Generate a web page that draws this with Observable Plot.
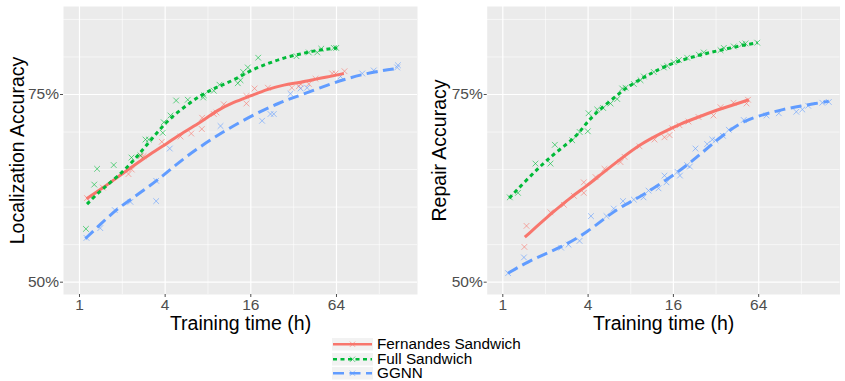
<!DOCTYPE html>
<html><head><meta charset="utf-8">
<script src="https://cdn.jsdelivr.net/npm/d3@7"></script>
<script src="https://cdn.jsdelivr.net/npm/@observablehq/plot@0.6"></script>
<style>
body{margin:0;background:#fff;font-family:"Liberation Sans",Arial,sans-serif;}
#wrap{position:relative;width:845px;height:381px;overflow:hidden;}
#left{position:absolute;left:0;top:0;}
#right{position:absolute;left:422px;top:0;}
#legend{position:absolute;left:331px;top:337px;}
.row{display:flex;align-items:center;height:14.5px;}
.row svg{display:block;}
.row span{font-size:15.3px;margin-left:3px;line-height:14.5px;color:#000;white-space:nowrap;}
</style></head>
<body><div id="wrap"><div id="left"></div><div id="right"></div><div id="legend"></div></div>
<script>
// ---- categories / styling lookups ----
const series = ["Fernandes Sandwich", "Full Sandwich", "GGNN"];
const colors = ["#F8766D", "#00BA38", "#619CFF"];
const dashes = [null, "4,3.5", "11,5.5"];

// ---- axis ticks ----
const xTicks = [1, 4, 16, 64];
const xMinor = [2, 8, 32, 128];
const yTicks = [50, 75];
const yMinor = [55, 60, 65, 70, 80, 85];

// ---- Localization Accuracy panel: observed points [hours, %] ----
const locFerPts = [[1.13,61.2],[1.46,62.6],[2.21,64.4],[2.33,65.0],[2.70,66.8],[2.82,66.8],[3.79,68.7],[5.13,69.4],[6.10,69.8],[7.28,71.9],[7.24,70.4],[8.79,72.4],[9.18,72.6],[10.33,73.7],[14.9,74.8],[14.9,73.8],[17.0,75.8],[21.1,75.9],[31.1,75.9],[34.8,76.1],[35.8,76.4],[40.9,76.4],[45.6,77.1],[59.7,77.8],[63.0,77.8],[72.9,78.1]];
const locFullPts = [[1.11,57.1],[1.27,63.0],[1.33,65.1],[1.74,65.6],[2.32,66.6],[2.68,66.9],[2.91,69.0],[3.07,69.0],[3.85,69.9],[3.91,71.3],[4.36,72.2],[4.78,74.2],[5.77,74.3],[7.40,74.6],[7.48,74.9],[8.79,75.5],[9.64,76.3],[12.96,76.5],[13.54,76.9],[14.14,78.0],[15.24,78.6],[18.03,79.9],[33.5,80.1],[40.9,80.6],[46.9,80.6],[50.0,81.1],[61.3,81.2],[63.7,81.2]];
const locGgnnPts = [[1.12,55.9],[1.40,57.2],[1.77,59.6],[2.28,60.7],[3.46,63.5],[3.46,60.8],[4.31,67.8],[9.80,70.8],[19.2,71.5],[22.0,72.4],[23.2,72.4],[30.4,75.1],[35.8,75.8],[39.8,75.9],[68.3,77.4],[97.1,77.8],[117,78.2],[171,78.6],[173,78.9]];
// ---- Localization: smoothed trend lines ----
const locFerFit = [[1.12,61.1],[1.40,62.3],[2.16,64.9],[3.16,67.1],[4.13,68.5],[5.41,70.0],[7.09,71.3],[9.28,72.9],[12.15,74.0],[15.9,74.8],[20.9,75.7],[27.3,76.3],[35.8,76.6],[46.9,77.1],[61.3,77.5],[72.1,77.8]];
const locFullFit = [[1.13,60.4],[1.40,62.2],[1.84,64.0],[2.41,66.2],[3.16,68.9],[4.13,71.5],[5.41,73.3],[7.09,74.9],[9.28,76.0],[12.15,76.9],[15.9,78.2],[20.9,79.1],[27.3,79.9],[35.8,80.4],[46.9,80.9],[64.8,81.2]];
const locGgnnFit = [[1.10,55.8],[1.40,57.7],[1.84,59.8],[2.68,61.9],[3.89,64.2],[5.38,66.5],[8.79,69.3],[15.1,71.9],[25.9,74.0],[35.8,74.9],[61.3,76.6],[105,77.9],[175,78.5]];

// ---- Repair Accuracy panel: observed points [hours, %] ----
const repFerPts = [[1.47,57.5],[1.42,54.7],[2.17,59.3],[2.70,60.3],[3.17,61.5],[3.73,63.3],[3.73,61.9],[4.51,64.0],[5.22,65.1],[6.77,66.0],[7.23,66.7],[9.22,68.1],[11.77,69.0],[13.84,69.3],[15.02,69.6],[15.69,70.5],[17.67,70.9],[20.45,71.4],[24.07,72.0],[30.7,72.2],[34.4,73.3],[42.5,73.9],[52.5,73.8],[53.8,74.3]];
const repFullPts = [[1.12,61.3],[1.28,61.9],[1.70,65.8],[2.17,65.8],[2.33,68.3],[3.09,68.9],[3.49,70.0],[3.98,70.1],[4.03,72.5],[4.64,73.0],[5.11,73.2],[5.76,73.8],[6.42,74.4],[6.96,75.8],[7.35,75.9],[8.41,76.4],[9.38,76.9],[9.89,77.4],[11.63,78.0],[13.69,78.6],[14.47,78.8],[16.1,79.3],[17.5,79.6],[20.0,79.9],[24.2,80.3],[26.2,80.6],[34.4,80.9],[36.3,81.2],[42.7,81.4],[48.9,81.7],[51.6,81.8],[62.5,81.9]];
const repGgnnPts = [[1.09,51.2],[1.41,53.3],[2.58,54.6],[2.91,55.0],[3.48,55.5],[4.19,58.8],[5.39,58.8],[6.07,59.8],[7.05,60.8],[8.41,61.0],[9.84,61.3],[10.68,62.2],[12.56,62.5],[13.84,64.2],[14.30,63.3],[17.1,64.7],[17.8,64.2],[20.0,65.6],[20.9,65.4],[22.9,67.8],[27.7,68.4],[30.1,69.0],[31.7,68.9],[35.8,69.5],[39.4,70.3],[50.2,71.6],[72.7,72.2],[88.7,72.5],[118,72.7],[130,73.0],[143,73.5],[180,73.9],[200,74.0]];
// ---- Repair: smoothed trend lines ----
const repFerFit = [[1.43,56.0],[2.31,59.5],[3.02,61.3],[3.96,62.9],[4.89,64.3],[6.77,66.4],[9.38,68.4],[12.98,69.8],[17.96,71.1],[24.9,72.1],[34.4,73.1],[43.9,73.7],[54.5,74.3]];
const repFullFit = [[1.11,61.2],[1.45,63.5],[1.85,65.5],[2.37,67.3],[3.37,69.5],[3.90,71.3],[4.89,73.1],[6.42,74.9],[7.55,76.0],[9.89,77.3],[11.63,78.0],[16.1,79.3],[24.9,80.3],[32.6,80.8],[47.6,81.5],[62.8,81.9]];
const repGgnnFit = [[1.09,51.2],[1.49,52.7],[2.07,53.9],[2.86,55.1],[3.96,56.7],[5.48,58.8],[6.77,60.0],[9.38,61.4],[12.98,63.1],[17.96,64.9],[23.6,66.7],[29.2,68.2],[39.4,70.2],[51.6,71.6],[71.5,72.4],[93.8,73.0],[130,73.5],[161,73.8],[200,74.1]];

const FONT = "Liberation Sans, Arial, Helvetica, sans-serif";

function tag(arr, s) { return arr.map(([x, y]) => ({x, y, s})); }

function panel({width, ml, mr, xDomain, pts, fits, yTitle, yTitleDx}) {
  const points = pts.flatMap((a, i) => tag(a, series[i]));
  const lineMarks = fits.map((a, i) => Plot.line(tag(a, series[i]), {
    x: "x", y: "y", stroke: colors[i], strokeWidth: 3,
    strokeDasharray: dashes[i] || undefined, strokeLinecap: "butt", strokeLinejoin: "round",
    curve: "basis"
  }));
  return Plot.plot({
    width, height: 340,
    marginLeft: ml, marginRight: mr, marginTop: 6, marginBottom: 46,
    x: {type: "log", base: 2, domain: xDomain},
    y: {domain: [48.36, 86.72]},
    color: {domain: series, range: colors},
    style: {fontFamily: FONT, background: "transparent", overflow: "visible"},
    marks: [
      Plot.frame({fill: "#ebebeb", stroke: null}),
      Plot.ruleX(xMinor, {stroke: "white", strokeWidth: 0.6}),
      Plot.ruleY(yMinor, {stroke: "white", strokeWidth: 0.6}),
      Plot.ruleX(xTicks, {stroke: "white", strokeWidth: 1.2}),
      Plot.ruleY(yTicks, {stroke: "white", strokeWidth: 1.2}),
      Plot.dot(points, {x: "x", y: "y", stroke: "s", symbol: "times", r: 2.7, strokeOpacity: 0.6, strokeWidth: 1}),
      ...lineMarks,
      Plot.axisX({ticks: xTicks, tickFormat: d => String(d), tickSize: 3, tickPadding: 1, fontSize: 15.5, color: "#4d4d4d", label: null}),
      Plot.axisY({ticks: yTicks, tickFormat: d => d + "%", tickSize: 3, tickPadding: 1.5, fontSize: 15.5, color: "#4d4d4d", label: null}),
      Plot.text(["Training time (h)"], {frameAnchor: "bottom", lineAnchor: "middle", textAnchor: "middle", dy: 29, fontSize: 19.5, fill: "black"}),
      Plot.text([yTitle], {frameAnchor: "left", lineAnchor: "middle", textAnchor: "middle", dx: yTitleDx, rotate: -90, fontSize: 19.5, fill: "black"})
    ]
  });
}

document.getElementById("left").appendChild(panel({
  width: 422, ml: 63, mr: 5, xDomain: [0.772, 237.5],
  pts: [locFerPts, locFullPts, locGgnnPts],
  fits: [locFerFit, locFullFit, locGgnnFit],
  yTitle: "Localization Accuracy", yTitleDx: -46
}));
document.getElementById("right").appendChild(panel({
  width: 423, ml: 64.7, mr: 5.5, xDomain: [0.776, 239.9],
  pts: [repFerPts, repFullPts, repGgnnPts],
  fits: [repFerFit, repFullFit, repGgnnFit],
  yTitle: "Repair Accuracy", yTitleDx: -47.5
}));

// ---- legend ----
const legend = document.getElementById("legend");
const ns = "http://www.w3.org/2000/svg";
series.forEach((name, i) => {
  const row = document.createElement("div");
  row.className = "row";
  const svg = document.createElementNS(ns, "svg");
  svg.setAttribute("width", 43); svg.setAttribute("height", 14.5);
  const rect = document.createElementNS(ns, "rect");
  rect.setAttribute("x", 0.5); rect.setAttribute("y", 0.5);
  rect.setAttribute("width", 42); rect.setAttribute("height", 13.5);
  rect.setAttribute("fill", "#f2f2f2"); rect.setAttribute("stroke", "white");
  svg.appendChild(rect);
  const ln = document.createElementNS(ns, "line");
  ln.setAttribute("x1", 2); ln.setAttribute("x2", 41);
  ln.setAttribute("y1", 7.25); ln.setAttribute("y2", 7.25);
  ln.setAttribute("stroke", colors[i]); ln.setAttribute("stroke-width", 2.5);
  if (dashes[i]) ln.setAttribute("stroke-dasharray", dashes[i]);
  svg.appendChild(ln);
  const sym = document.createElementNS(ns, "path");
  sym.setAttribute("d", d3.symbol(d3.symbolTimes, 20)());
  sym.setAttribute("transform", "translate(21.5,7.25)");
  sym.setAttribute("stroke", colors[i]); sym.setAttribute("stroke-opacity", 0.6);
  sym.setAttribute("fill", "none");
  svg.appendChild(sym);
  row.appendChild(svg);
  const span = document.createElement("span");
  span.textContent = name;
  row.appendChild(span);
  legend.appendChild(row);
});
</script>
</body></html>
